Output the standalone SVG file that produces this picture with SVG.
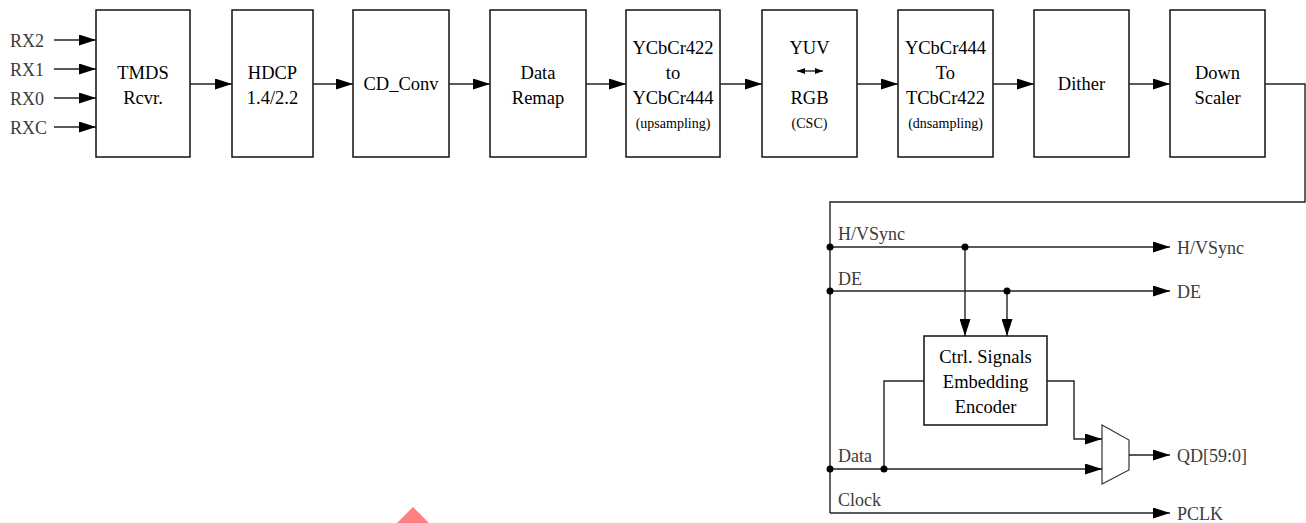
<svg xmlns="http://www.w3.org/2000/svg" width="1306" height="523" viewBox="0 0 1306 523">
<style>
.box{fill:#fff;stroke:#111;stroke-width:1.5}
.w{fill:none;stroke:#222;stroke-width:1.4}
.t{font-family:"Liberation Serif",serif;font-size:18.5px;fill:#000;text-anchor:middle}
.s{font-family:"Liberation Serif",serif;font-size:14px;fill:#000;text-anchor:middle}
.l{font-family:"Liberation Serif",serif;font-size:18px;fill:#3c3c3c}
.dot{fill:#000}
</style>
<defs>
<marker id="ah" markerUnits="userSpaceOnUse" markerWidth="17" markerHeight="11" viewBox="0 0 17 11" refX="17" refY="5.5" orient="auto">
<path d="M0,0 L17,5.5 L0,11 z" fill="#000"/>
</marker>
<marker id="sh" markerUnits="userSpaceOnUse" markerWidth="8" markerHeight="6" viewBox="0 0 8 6" refX="8" refY="3" orient="auto-start-reverse">
<path d="M0,0 L8,3 L0,6 z" fill="#000"/>
</marker>
</defs>

<g id="inputs">
<text class="l" x="10" y="47">RX2</text>
<text class="l" x="10" y="76">RX1</text>
<text class="l" x="10" y="105">RX0</text>
<text class="l" x="10" y="134">RXC</text>
</g>

<g id="tmds"><rect class="box" x="96" y="10" width="94" height="147"/>
<text class="t" x="143" y="79">TMDS</text><text class="t" x="143" y="104">Rcvr.</text></g>
<g id="hdcp"><rect class="box" x="232" y="10" width="81" height="147"/>
<text class="t" x="272.5" y="79">HDCP</text><text class="t" x="272.5" y="104">1.4/2.2</text></g>
<g id="cdconv"><rect class="box" x="353" y="10" width="96" height="147"/>
<text class="t" x="401" y="90">CD_Conv</text></g>
<g id="remap"><rect class="box" x="490" y="10" width="96" height="147"/>
<text class="t" x="538" y="79">Data</text><text class="t" x="538" y="104">Remap</text></g>
<g id="up"><rect class="box" x="626" y="10" width="94" height="147"/>
<text class="t" x="673" y="54">YCbCr422</text><text class="t" x="673" y="79">to</text><text class="t" x="673" y="104">YCbCr444</text><text class="s" x="673" y="128">(upsampling)</text></g>
<g id="csc"><rect class="box" x="762" y="10" width="95" height="147"/>
<text class="t" x="809.5" y="54">YUV</text>
<line x1="797" y1="71" x2="823" y2="71" stroke="#000" stroke-width="1.2" marker-start="url(#sh)" marker-end="url(#sh)"/>
<text class="t" x="809.5" y="104">RGB</text><text class="s" x="809.5" y="128">(CSC)</text></g>
<g id="dn"><rect class="box" x="898" y="10" width="95" height="147"/>
<text class="t" x="945.5" y="54">YCbCr444</text><text class="t" x="945.5" y="79">To</text><text class="t" x="945.5" y="104">TCbCr422</text><text class="s" x="945.5" y="128">(dnsampling)</text></g>
<g id="dither"><rect class="box" x="1034" y="10" width="95" height="147"/>
<text class="t" x="1081.5" y="90">Dither</text></g>
<g id="scaler"><rect class="box" x="1170" y="10" width="95" height="147"/>
<text class="t" x="1217.5" y="79">Down</text><text class="t" x="1217.5" y="104">Scaler</text></g>

<g id="encoder"><rect class="box" x="924" y="336" width="123" height="89"/>
<text class="t" x="985.5" y="363">Ctrl. Signals</text><text class="t" x="985.5" y="388">Embedding</text><text class="t" x="985.5" y="413">Encoder</text></g>
<g id="mux"><polygon points="1102,425 1129,440 1129,470 1102,484" fill="#fff" stroke="#333" stroke-width="1.2"/></g>

<g id="connectors">
<line class="w" x1="54" y1="40" x2="96" y2="40" marker-end="url(#ah)"/>
<line class="w" x1="54" y1="69" x2="96" y2="69" marker-end="url(#ah)"/>
<line class="w" x1="54" y1="98" x2="96" y2="98" marker-end="url(#ah)"/>
<line class="w" x1="54" y1="127" x2="96" y2="127" marker-end="url(#ah)"/>
<line class="w" x1="190" y1="84" x2="232" y2="84" marker-end="url(#ah)"/>
<line class="w" x1="313" y1="84" x2="353" y2="84" marker-end="url(#ah)"/>
<line class="w" x1="449" y1="84" x2="490" y2="84" marker-end="url(#ah)"/>
<line class="w" x1="586" y1="84" x2="626" y2="84" marker-end="url(#ah)"/>
<line class="w" x1="720" y1="84" x2="762" y2="84" marker-end="url(#ah)"/>
<line class="w" x1="857" y1="84" x2="898" y2="84" marker-end="url(#ah)"/>
<line class="w" x1="993" y1="84" x2="1034" y2="84" marker-end="url(#ah)"/>
<line class="w" x1="1129" y1="84" x2="1170" y2="84" marker-end="url(#ah)"/>
<polyline class="w" points="1265,84 1305,84 1305,202 830,202 830,513"/>
<line class="w" x1="830" y1="247" x2="1170" y2="247" marker-end="url(#ah)"/>
<line class="w" x1="830" y1="291" x2="1170" y2="291" marker-end="url(#ah)"/>
<line class="w" x1="965" y1="247" x2="965" y2="336" marker-end="url(#ah)"/>
<line class="w" x1="1007" y1="291" x2="1007" y2="336" marker-end="url(#ah)"/>
<polyline class="w" points="924,381 884,381 884,469"/>
<line class="w" x1="830" y1="469" x2="1102" y2="469" marker-end="url(#ah)"/>
<polyline class="w" points="1047,381 1074,381 1074,439 1102,439" marker-end="url(#ah)"/>
<line class="w" x1="1129" y1="455" x2="1170" y2="455" marker-end="url(#ah)"/>
<line class="w" x1="830" y1="513" x2="1170" y2="513" marker-end="url(#ah)"/>
<circle class="dot" cx="830" cy="247" r="3.5"/>
<circle class="dot" cx="965" cy="247" r="3.5"/>
<circle class="dot" cx="830" cy="291" r="3.5"/>
<circle class="dot" cx="1007" cy="291" r="3.5"/>
<circle class="dot" cx="830" cy="469" r="3.5"/>
<circle class="dot" cx="884" cy="469" r="3.5"/>
</g>

<g id="labels">
<text class="l" x="838" y="240">H/VSync</text>
<text class="l" x="838" y="285">DE</text>
<text class="l" x="838" y="462">Data</text>
<text class="l" x="838" y="506">Clock</text>
<text class="l" x="1177" y="254">H/VSync</text>
<text class="l" x="1177" y="298">DE</text>
<text class="l" x="1177" y="462">QD[59:0]</text>
<text class="l" x="1177" y="520">PCLK</text>
</g>

<polygon points="413,507 429,523 397,523" fill="#ff8080"/>
</svg>
